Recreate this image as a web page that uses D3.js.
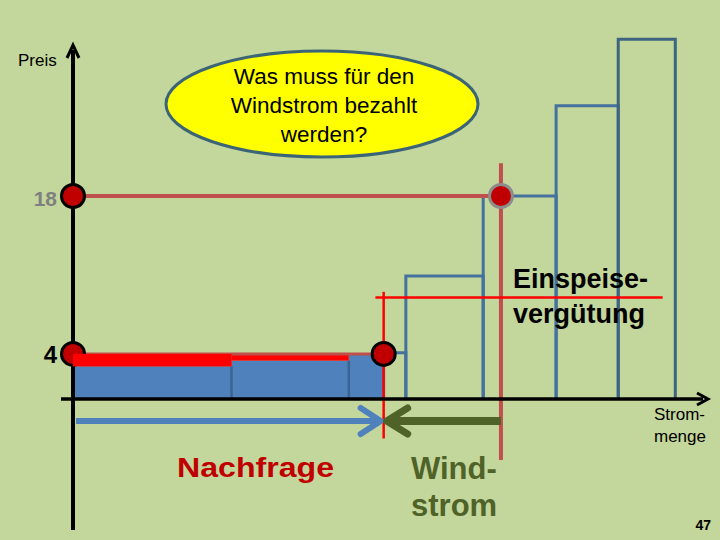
<!DOCTYPE html>
<html>
<head>
  <script src="https://d3js.org/d3.v7.min.js"></script>
  <style>
    body { margin: 0; padding: 0; background: #c3d69b; overflow: hidden; }
    svg { display: block; font-family: "Liberation Sans", Arial, sans-serif; }
  </style>
</head>
<body>
  <svg width="720" height="540"></svg>

  <script>
    // merit order steps: right edge (Strommenge) and price of each supplier
    const stepEnds   = [25, 43.5, 49, 52.5, 64.7, 76.2, 86, 95];
    const stepPrices = [2.9, 3.4, 3.9, 4.1, 10.9, 18, 26, 31.9];
    const demand = 49;          // Nachfrage
    const wind = 67.5;          // Windstrom
    const priceLabels = [18, 4];
    const feedIn = 9;           // Einspeisevergütung
    const questionLines = ["Was muss für den", "Windstrom bezahlt", "werden?"];

    const svg = d3.select("svg");
    const x = d3.scaleLinear().domain([0, 100]).range([73, 707]);
    const y = d3.scaleLinear().domain([0, 18]).range([399, 196]);

    svg.append("rect").attr("width", 720).attr("height", 540).attr("fill", "#c3d69b");

    const steps = stepEnds.map((e, i) => ({ x0: i ? stepEnds[i - 1] : 0, x1: e, p: stepPrices[i] }));
    const filled = steps.filter(d => d.x1 <= demand);
    const open = steps.filter(d => d.x1 > demand);

    // filled steps (covered by demand)
    svg.selectAll(".fill")
      .data(filled)
      .enter().append("rect")
        .attr("x", d => x(d.x0))
        .attr("y", d => y(d.p))
        .attr("width", d => x(d.x1) - x(d.x0))
        .attr("height", d => y(0) - y(d.p))
        .attr("fill", "#4f81bd");

    svg.selectAll(".sep")
      .data(filled.slice(0, -1))
      .enter().append("line")
        .attr("x1", d => x(d.x1)).attr("x2", d => x(d.x1))
        .attr("y1", d => y(d.p)).attr("y2", y(0))
        .attr("stroke", "#3b6590").attr("stroke-width", 2.5);

    // red band between step price and market price
    svg.selectAll(".band")
      .data(filled)
      .enter().append("rect")
        .attr("x", d => x(d.x0))
        .attr("y", y(4))
        .attr("width", d => x(d.x1) - x(d.x0))
        .attr("height", d => y(d.p) - y(4))
        .attr("fill", "#ff0000");

    // open steps as outlines
    svg.selectAll(".step")
      .data(open)
      .enter().append("path")
        .attr("d", d => `M${x(d.x0)},${y(0)}V${y(d.p)}H${x(d.x1)}V${y(0)}`)
        .attr("fill", "none")
        .attr("stroke", (d, i) => i === open.length - 1 ? "#3e6480" : "#44719e")
        .attr("stroke-width", 3);

    // price lines
    svg.append("line")
      .attr("x1", x(0)).attr("x2", x(wind) - 10)
      .attr("y1", y(18)).attr("y2", y(18))
      .attr("stroke", "#c0504d").attr("stroke-width", 4);
    svg.append("line")
      .attr("x1", x(0)).attr("x2", x(demand))
      .attr("y1", y(4)).attr("y2", y(4))
      .attr("stroke", "#c0504d").attr("stroke-width", 3);

    // wind and demand verticals
    svg.append("line")
      .attr("x1", x(wind)).attr("x2", x(wind))
      .attr("y1", y(20.9)).attr("y2", y(-5.4))
      .attr("stroke", "#c0504d").attr("stroke-width", 4);
    svg.append("line")
      .attr("x1", x(demand)).attr("x2", x(demand))
      .attr("y1", y(9.5)).attr("y2", y(-3.5))
      .attr("stroke", "#ff0000").attr("stroke-width", 2.5);
    svg.append("line")
      .attr("x1", x(47.7)).attr("x2", x(93))
      .attr("y1", y(feedIn)).attr("y2", y(feedIn))
      .attr("stroke", "#ff0000").attr("stroke-width", 2.5);

    // axes
    svg.append("line")
      .attr("x1", x(0)).attr("x2", x(0))
      .attr("y1", 530).attr("y2", 50)
      .attr("stroke", "black").attr("stroke-width", 4);
    svg.append("path")
      .attr("d", `M${x(0) - 6},${58}L${x(0)},${45}L${x(0) + 6},${58}`)
      .attr("fill", "none").attr("stroke", "black").attr("stroke-width", 3);
    svg.append("line")
      .attr("x1", 61).attr("x2", 703)
      .attr("y1", y(0)).attr("y2", y(0))
      .attr("stroke", "black").attr("stroke-width", 3.5);
    svg.append("path")
      .attr("d", `M${697},${y(0) - 6}L${708},${y(0)}L${697},${y(0) + 6}`)
      .attr("fill", "none").attr("stroke", "black").attr("stroke-width", 3);

    // circles
    const dots = [
      { q: 0, p: 18, s: "black" },
      { q: wind, p: 18, s: "#8c8c8c" },
      { q: 0, p: 4, s: "black" },
      { q: demand, p: 4, s: "black" }
    ];
    svg.selectAll(".dot")
      .data(dots)
      .enter().append("circle")
        .attr("cx", d => x(d.q)).attr("cy", d => y(d.p))
        .attr("r", 11.5)
        .attr("fill", "#c00000")
        .attr("stroke", d => d.s).attr("stroke-width", 3);

    // band redrawn over left circle
    svg.append("rect")
      .attr("x", x(0)).attr("y", y(4))
      .attr("width", x(filled[0].x1) - x(0))
      .attr("height", y(filled[0].p) - y(4))
      .attr("fill", "#ff0000");

    svg.selectAll(".plabel")
      .data(priceLabels)
      .enter().append("text")
        .attr("x", 57)
        .attr("y", d => y(d) + (d === 18 ? 10 : 9))
        .attr("text-anchor", "end")
        .attr("font-weight", "bold")
        .attr("font-size", d => d === 18 ? "21px" : "24px")
        .attr("fill", d => d === 18 ? "#7f7f7f" : "black")
        .text(d => d);

    // arrows
    const ay = y(-1.95);
    svg.append("line")
      .attr("x1", x(0) + 3).attr("x2", x(demand) - 4)
      .attr("y1", ay).attr("y2", ay)
      .attr("stroke", "#4f81bd").attr("stroke-width", 6);
    svg.append("path")
      .attr("d", `M${x(demand) - 23},${ay - 13}L${x(demand) - 3},${ay}L${x(demand) - 23},${ay + 13}`)
      .attr("fill", "none").attr("stroke", "#4f81bd").attr("stroke-width", 6)
      .attr("stroke-linecap", "round").attr("stroke-linejoin", "round");
    svg.append("line")
      .attr("x1", x(wind)).attr("x2", x(demand) + 4)
      .attr("y1", ay).attr("y2", ay)
      .attr("stroke", "#4f6228").attr("stroke-width", 8);
    svg.append("path")
      .attr("d", `M${x(demand) + 24},${ay - 13}L${x(demand) + 3},${ay}L${x(demand) + 24},${ay + 13}`)
      .attr("fill", "none").attr("stroke", "#4f6228").attr("stroke-width", 7)
      .attr("stroke-linecap", "round").attr("stroke-linejoin", "round");

    // question bubble
    svg.append("ellipse")
      .attr("cx", 322).attr("cy", 104).attr("rx", 156).attr("ry", 53)
      .attr("fill", "#ffff00").attr("stroke", "#3b6577").attr("stroke-width", 3);
    svg.selectAll(".q")
      .data(questionLines)
      .enter().append("text")
        .attr("x", 324)
        .attr("y", (d, i) => 84 + i * 29)
        .attr("text-anchor", "middle")
        .attr("font-size", "22.5px")
        .text(d => d);

    // labels
    const label = (t, lx, ly, size, opts = {}) => {
      const el = svg.append("text")
        .attr("x", lx).attr("y", ly)
        .attr("font-size", size)
        .attr("font-weight", opts.bold ? "bold" : "normal")
        .attr("fill", opts.color || "black")
        .attr("text-anchor", opts.anchor || "start")
        .text(t);
      if (opts.len) el.attr("textLength", opts.len).attr("lengthAdjust", "spacingAndGlyphs");
      return el;
    };

    label("Preis", 18, 66, "17px");
    label("Einspeise-", 513, 288, "27px", { bold: true });
    label("vergütung", 513, 323, "27px", { bold: true });
    label("Strom-", 654, 420, "17px");
    label("menge", 654, 442, "17px");
    label("Nachfrage", 177, 477, "28px", { bold: true, color: "#c00000", len: 157 });
    label("Wind-", 411, 479, "31px", { bold: true, color: "#4f6228" });
    label("strom", 411, 516, "31px", { bold: true, color: "#4f6228" });
    label("47", 711, 530, "14px", { bold: true, anchor: "end" });
  </script>
</body>
</html>
